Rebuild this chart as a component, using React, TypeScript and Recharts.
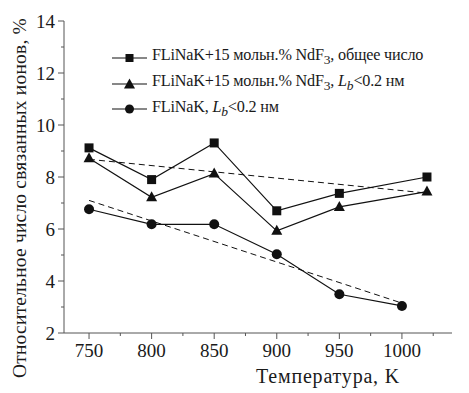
import React from 'react';
import { LineChart, Line, XAxis, YAxis } from 'recharts';

const temps = [750, 800, 850, 900, 950, 1020];
const tempsFLiNaK = [750, 800, 850, 900, 950, 1000];
const totalNd = [9.12, 7.9, 9.31, 6.7, 7.37, 8.0];
const shortNd = [8.72, 7.22, 8.13, 5.93, 6.85, 7.44];
const shortFLiNaK = [6.76, 6.18, 6.18, 5.03, 3.49, 3.04];
const trendNdT = [750, 1020];
const trendNdV = [8.68, 7.38];
const trendFT = [750, 1000];
const trendFV = [7.1, 3.15];
const xTicks = [750, 775, 800, 825, 850, 875, 900, 925, 950, 975, 1000, 1025];
const yTicks = [2, 3, 4, 5, 6, 7, 8, 9, 10, 11, 12, 13, 14];

const toData = (xs: number[], ys: number[]) => xs.map((t, i) => ({ t, v: ys[i] }));
const dTotal = toData(temps, totalNd);
const dShort = toData(temps, shortNd);
const dF = toData(tempsFLiNaK, shortFLiNaK);
const dTrendNd = toData(trendNdT, trendNdV);
const dTrendF = toData(trendFT, trendFV);

const FONT = '"Liberation Serif", "Times New Roman", serif';
const AXIS = '#555';
const INK = '#1a1a1a';

const XTick = (props: any) => {
  const { x, y, payload } = props;
  const major = payload.value % 50 === 0;
  return (
    <g>
      <line x1={x} y1={y} x2={x} y2={y + (major ? 6 : 3)} stroke={AXIS} strokeWidth={1} />
      {major && (
        <text x={x} y={y + 24} textAnchor="middle" fontFamily={FONT} fontSize={19} fill={INK}>
          {payload.value}
        </text>
      )}
    </g>
  );
};

const YTick = (props: any) => {
  const { x, y, payload } = props;
  const major = payload.value % 2 === 0;
  return (
    <g>
      <line x1={x - (major ? 6 : 3)} y1={y} x2={x} y2={y} stroke={AXIS} strokeWidth={1} />
      {major && (
        <text x={x - 9} y={y} dy="0.35em" textAnchor="end" fontFamily={FONT} fontSize={19} fill={INK}>
          {payload.value}
        </text>
      )}
    </g>
  );
};

const YTitle = () => (
  <text
    x={26}
    y={198}
    transform="rotate(-90 26 198)"
    textAnchor="middle"
    fontFamily={FONT}
    fontSize={19.5}
    letterSpacing={0.2}
    fill={INK}
  >
    Относительное число связанных ионов, %
  </text>
);

const XTitle = () => (
  <text x={328} y={383} textAnchor="middle" fontFamily={FONT} fontSize={20} letterSpacing={0.8} fill={INK}>
    Температура, K
  </text>
);

const Square = (props: any) => {
  const { cx, cy } = props;
  if (cx == null || cy == null) return null;
  return <rect x={cx - 4.5} y={cy - 4.5} width={9} height={9} fill="#111" />;
};
const Triangle = (props: any) => {
  const { cx, cy } = props;
  if (cx == null || cy == null) return null;
  return <polygon points={`${cx},${cy - 6} ${cx - 5.5},${cy + 4} ${cx + 5.5},${cy + 4}`} fill="#111" />;
};
const Circle = (props: any) => {
  const { cx, cy } = props;
  if (cx == null || cy == null) return null;
  return <circle cx={cx} cy={cy} r={5} fill="#111" />;
};

const legendRows = [
  { m: 'square', text: <>FLiNaK+15 мольн.% NdF<sub>3</sub>, общее число</> },
  { m: 'triangle', text: <>FLiNaK+15 мольн.% NdF<sub>3</sub>, <i>L</i><sub><i>b</i></sub>&lt;0.2 нм</> },
  { m: 'circle', text: <>FLiNaK, <i>L</i><sub><i>b</i></sub>&lt;0.2 нм</> },
];

const LegendBox = () => (
  <div
    style={{
      position: 'absolute',
      left: 112,
      top: 45,
      fontFamily: FONT,
      fontSize: 16.2,
      letterSpacing: '-0.2px',
      color: INK,
    }}
  >
    {legendRows.map((r, i) => (
      <div key={i} style={{ display: 'flex', alignItems: 'center', height: 25.8, whiteSpace: 'nowrap' }}>
        <svg width={40} height={14} style={{ flex: '0 0 40px' }}>
          <line x1={0} y1={7} x2={35} y2={7} stroke="#111" strokeWidth={1.2} />
          {r.m === 'square' && <rect x={13.5} y={3} width={8} height={8} fill="#111" />}
          {r.m === 'triangle' && <polygon points="17.5,1.5 12,11.5 23,11.5" fill="#111" />}
          {r.m === 'circle' && <circle cx={17.5} cy={7} r={4.5} fill="#111" />}
        </svg>
        <span style={{ lineHeight: '18px' }}>{r.text}</span>
      </div>
    ))}
  </div>
);

export default function App() {
  return (
    <div style={{ position: 'absolute', left: 0, top: 0, width: 469, height: 393, background: '#fff' }}>
      <LineChart width={469} height={393} margin={{ top: 21, right: 17, bottom: 0, left: 0 }}>
        <XAxis
          dataKey="t"
          type="number"
          domain={[730, 1040]}
          ticks={xTicks}
          interval={0}
          allowDataOverflow
          height={60}
          stroke={AXIS}
          tickLine={false}
          tickSize={0}
          tickMargin={0}
          tick={<XTick />}
          label={<XTitle />}
        />
        <YAxis
          type="number"
          domain={[2, 14]}
          ticks={yTicks}
          interval={0}
          width={64}
          stroke={AXIS}
          tickLine={false}
          tickSize={0}
          tickMargin={0}
          tick={<YTick />}
          label={<YTitle />}
        />
        <Line data={dTrendNd} dataKey="v" stroke="#111" strokeWidth={1} strokeDasharray="6 4" dot={false} isAnimationActive={false} legendType="none" />
        <Line data={dTrendF} dataKey="v" stroke="#111" strokeWidth={1} strokeDasharray="6 4" dot={false} isAnimationActive={false} legendType="none" />
        <Line data={dTotal} dataKey="v" stroke="#111" strokeWidth={1.2} dot={<Square />} isAnimationActive={false} />
        <Line data={dShort} dataKey="v" stroke="#111" strokeWidth={1.2} dot={<Triangle />} isAnimationActive={false} />
        <Line data={dF} dataKey="v" stroke="#111" strokeWidth={1.2} dot={<Circle />} isAnimationActive={false} />
      </LineChart>
      <LegendBox />
    </div>
  );
}
